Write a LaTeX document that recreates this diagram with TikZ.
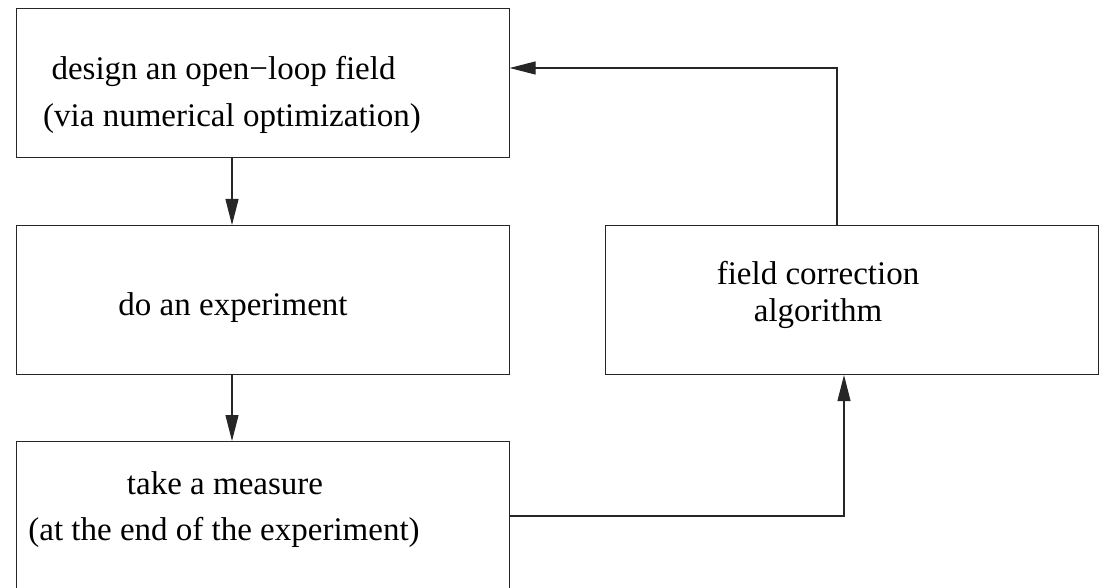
\documentclass[tikz,border=0pt]{standalone}
\usepackage{fontspec}
\setmainfont{Liberation Serif}
\usetikzlibrary{arrows.meta}
\begin{document}
\begin{tikzpicture}[x=1pt,y=1pt,
  boxst/.style={draw=black!85,line width=1.1pt,rectangle,inner sep=0pt,anchor=north west},
  txt/.style={anchor=base,inner sep=0pt,font=\fontsize{33}{40}\selectfont},
  arr/.style={draw=black!85,line width=1.1pt,-{Triangle[length=26pt,width=13pt]}}]
\clip (0,0) rectangle (1103,-588);
\useasboundingbox (0,0) rectangle (1103,-588);
% boxes
\node[boxst,minimum width=493pt,minimum height=149pt] (b1) at (15.5,-8) {};
\node[boxst,minimum width=493pt,minimum height=149pt] (b2) at (15.5,-225) {};
\node[boxst,minimum width=493pt,minimum height=170pt] (b3) at (15.5,-441) {};
\node[boxst,minimum width=493pt,minimum height=149pt] (b4) at (605,-225) {};
% texts
\node[txt] (t1a) at (223.5,-80) {design an open−loop field};
\node[txt] (t1b) at (232,-127) {(via numerical optimization)};
\node[txt] (t2) at (233,-315) {do an experiment};
\node[txt] (t3a) at (225,-494) {take a measure};
\node[txt] (t3b) at (224,-540) {(at the end of the experiment)};
\node[txt] (t4a) at (818,-284) {field correction};
\node[txt] (t4b) at (818,-321) {algorithm};
% connector helpers
\coordinate (cl) at (232,0);
\coordinate (cu) at (837,-68);
\coordinate (cd) at (844,-516);
% connectors
\draw[arr] (b1.south -| cl) -- (b2.north -| cl);
\draw[arr] (b2.south -| cl) -- (b3.north -| cl);
\draw[arr] (b3.east |- cd) -- (cd) -- (b4.south -| cd);
\draw[arr] (b4.north -| cu) -- (cu) -- (b1.east |- cu);
\end{tikzpicture}
\end{document}
